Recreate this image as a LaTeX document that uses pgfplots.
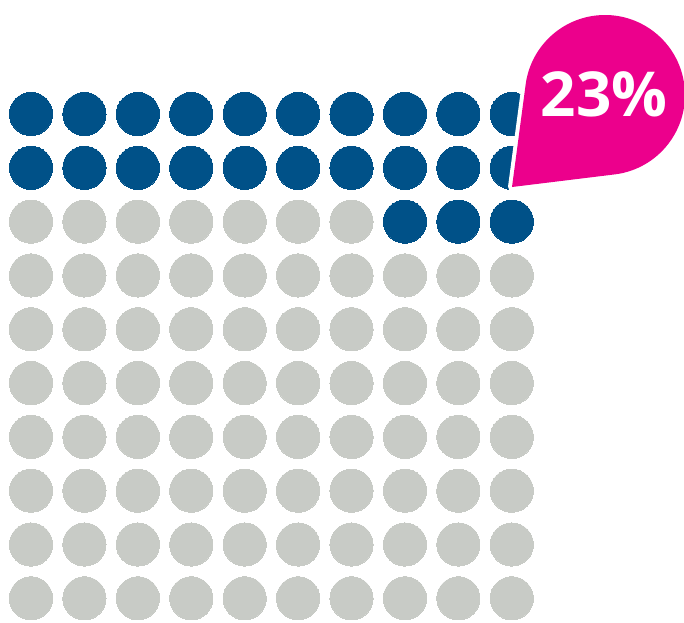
\documentclass[border=0pt]{standalone}
\usepackage{pgfplots}
\pgfplotsset{compat=1.18}
\usepackage{fontspec}
\setmainfont{Open Sans}
\definecolor{dotblue}{RGB}{0,81,136}
\definecolor{dotgrey}{RGB}{200,203,198}
\definecolor{bubblepink}{RGB}{236,0,140}
\begin{document}
\begin{tikzpicture}
\path[use as bounding box] (0,0) rectangle (684pt,-622pt);
\begin{axis}[
  at={(0,0)}, anchor=north west,
  scale only axis, width=684pt, height=622pt,
  hide axis, clip=false,
  xmin=-0.5803, xmax=12.224,
  ymin=-2.1186, ymax=9.4406, y dir=reverse,
]
% blue dots: 23 of 100
\addplot[only marks, mark=*, mark size=21.6pt, color=dotblue, mark options={solid, draw=dotblue, fill=dotblue, line width=0pt}] coordinates {
(0,0)(1,0)(2,0)(3,0)(4,0)(5,0)(6,0)(7,0)(8,0)(9,0)
(0,1)(1,1)(2,1)(3,1)(4,1)(5,1)(6,1)(7,1)(8,1)(9,1)
(7,2)(8,2)(9,2)
};
% grey dots: remaining 77
\addplot[only marks, mark=*, mark size=21.6pt, color=dotgrey, mark options={solid, draw=dotgrey, fill=dotgrey, line width=0pt}] coordinates {
(0,2)(1,2)(2,2)(3,2)(4,2)(5,2)(6,2)
(0,3)(1,3)(2,3)(3,3)(4,3)(5,3)(6,3)(7,3)(8,3)(9,3)
(0,4)(1,4)(2,4)(3,4)(4,4)(5,4)(6,4)(7,4)(8,4)(9,4)
(0,5)(1,5)(2,5)(3,5)(4,5)(5,5)(6,5)(7,5)(8,5)(9,5)
(0,6)(1,6)(2,6)(3,6)(4,6)(5,6)(6,6)(7,6)(8,6)(9,6)
(0,7)(1,7)(2,7)(3,7)(4,7)(5,7)(6,7)(7,7)(8,7)(9,7)
(0,8)(1,8)(2,8)(3,8)(4,8)(5,8)(6,8)(7,8)(8,8)(9,8)
(0,9)(1,9)(2,9)(3,9)(4,9)(5,9)(6,9)(7,9)(8,9)(9,9)
};
\end{axis}
% callout bubble
\draw[white, line width=8pt, line join=round] (512pt,-187pt) -- (614.7pt,-174.4pt) arc[start angle=-83, end angle=172.4, radius=80pt] -- cycle;
\fill[bubblepink] (512pt,-187pt) -- (614.7pt,-174.4pt) arc[start angle=-83, end angle=172.4, radius=80pt] -- cycle;
\node[text=white, font=\fontsize{62}{62}\selectfont\bfseries, inner sep=0pt] at (604pt,-94.5pt) {23\%};
\end{tikzpicture}
\end{document}
